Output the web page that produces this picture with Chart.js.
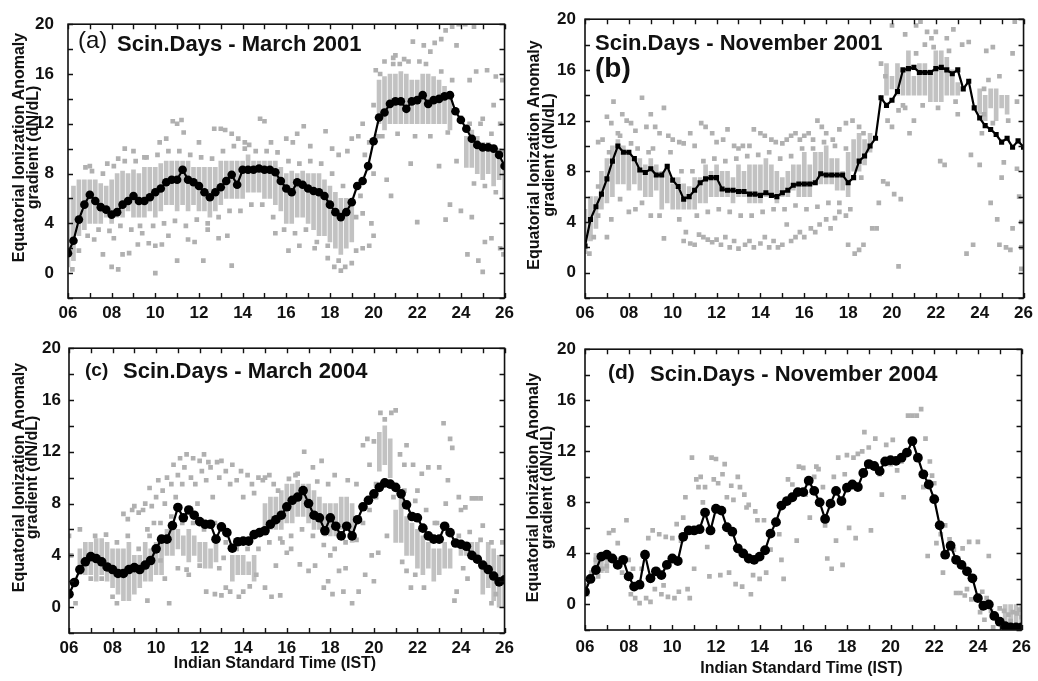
<!DOCTYPE html>
<html><head><meta charset="utf-8">
<script src="https://cdn.jsdelivr.net/npm/chart.js@4.4.0/dist/chart.umd.min.js"></script>
<style>
html,body{margin:0;padding:0;background:#fff;width:1038px;height:681px;overflow:hidden}
canvas{position:absolute}
</style></head><body>
<canvas id="ca" width="519" height="330" style="left:0;top:0"></canvas>
<canvas id="cb" width="519" height="330" style="left:519px;top:0"></canvas>
<canvas id="cc" width="519" height="351" style="left:0;top:330px"></canvas>
<canvas id="cd" width="519" height="351" style="left:519px;top:330px"></canvas>
<script>
const FONT = '"Liberation Sans", Arial, sans-serif';

// ---------- shared axis data ----------
const hours = [6,6.25,6.5,6.75,7,7.25,7.5,7.75,8,8.25,8.5,8.75,9,9.25,9.5,9.75,10,10.25,10.5,10.75,11,11.25,11.5,11.75,12,12.25,12.5,12.75,13,13.25,13.5,13.75,14,14.25,14.5,14.75,15,15.25,15.5,15.75,16,16.25,16.5,16.75,17,17.25,17.5,17.75,18,18.25,18.5,18.75,19,19.25,19.5,19.75,20,20.25,20.5,20.75,21,21.25,21.5,21.75,22,22.25,22.5,22.75,23,23.25,23.5,23.75,24,24.25,24.5,24.75,25,25.25,25.5,25.75,26];
const xTickLabels = ['06','08','10','12','14','16','18','20','22','24','26'];
const yTickLabels = ['0','4','8','12','16','20'];
const yTitleLines = ['Equatorial Ionization Anomaly','gradient (dN/dL)'];
const xTitle = 'Indian Standard Time (IST)';
const panelTags = ['(a)','(b)','(c)','(d)'];
const panelTitles = ['Scin.Days - March 2001','Scin.Days - November 2001','Scin.Days - March 2004','Scin.Days - November 2004'];

// ---------- mean curves ----------
const aVals = [1.6,2.6,4.3,5.5,6.3,5.8,5.3,5.1,4.7,4.9,5.5,5.8,6.2,5.8,5.8,6.1,6.5,6.8,7.3,7.5,7.5,8.3,7.5,7.3,7.0,6.5,6.1,6.5,6.9,7.4,7.9,7.1,8.3,8.3,8.3,8.4,8.3,8.3,8.1,7.4,6.8,6.5,7.3,7.1,6.8,6.6,6.5,6.2,5.5,4.9,4.5,4.9,5.7,7.0,7.4,8.6,10.6,12.5,12.9,13.6,13.8,13.8,13.2,13.8,13.9,14.3,13.6,13.9,14.0,14.2,14.3,13.0,12.3,11.6,10.8,10.3,10.1,10.1,10.0,9.5,8.6];
const bVals = [2.1,4.2,5.2,6.2,7.4,8.8,10.0,9.5,9.5,9.0,8.1,7.9,8.2,7.7,7.7,8.4,7.3,6.8,5.8,6.0,6.5,7.1,7.4,7.5,7.5,6.6,6.5,6.5,6.4,6.4,6.2,6.2,6.1,6.3,6.1,6.0,6.3,6.5,6.9,7.0,7.0,7.0,7.1,7.8,7.7,7.7,7.7,7.7,7.1,7.5,8.8,9.2,10.0,10.6,13.8,13.2,13.6,14.3,16.0,16.1,16.2,15.8,15.8,15.8,16.1,16.2,16.0,15.7,16.0,14.5,15.1,13.0,12.2,11.6,11.3,10.9,10.3,10.6,9.9,10.4,9.9];
const cVals = [1.0,1.9,2.9,3.5,3.9,3.75,3.5,3.1,2.9,2.6,2.6,2.9,3.05,2.9,3.25,3.6,4.5,5.25,5.25,6.3,7.7,6.9,7.5,7.1,6.6,6.4,6.4,5.25,6.2,5.75,4.55,5.05,5.1,5.1,5.6,5.75,5.9,6.4,6.75,7.1,7.75,8.25,8.5,9.0,8.0,7.1,6.9,5.9,6.9,6.25,5.5,6.25,5.5,6.75,7.75,8.25,8.75,9.25,9.6,9.5,9.25,8.75,7.9,7.0,6.9,6.1,5.5,5.25,5.25,6.25,5.75,4.95,4.85,4.7,4.0,3.7,3.25,2.9,2.4,1.95,2.1];
const dVals = [1.0,2.0,2.7,3.75,3.9,3.6,3.1,3.5,2.2,1.4,1.55,3.9,2.05,2.6,2.3,3.1,3.6,3.4,5.3,5.8,5.8,5.9,7.2,5.8,7.5,7.35,6.05,5.7,4.4,4.0,3.6,3.5,3.75,4.25,5.55,6.45,7.75,8.1,8.4,8.8,8.8,9.7,8.9,8.0,6.7,7.9,8.9,8.1,9.15,9.4,9.2,10.3,11.0,10.85,10.45,11.2,11.3,11.25,11.5,11.9,12.8,11.5,10.2,9.4,8.25,6.2,3.9,4.6,3.5,3.1,2.6,2.05,0.5,-0.1,0.0,-0.9,-1.35,-1.7,-1.8,-1.8,-1.8];

// ---------- dense grey stacks [hour, low, high] ----------
const aBands = [[6,0.5,6],[6.25,1,7],[6.5,3,7.5],[6.75,3.5,7.5],[7,4,7.5],[7.25,4,7.5],[7.5,4,7.2],[7.75,4.5,7],[8,4,7.5],[8.25,4.5,8],[8.5,4.5,8.2],[8.75,5,8],[9,4.5,8.3],[9.25,4.5,8],[9.5,4.5,8.5],[9.75,5,8.5],[10,4.5,8.5],[10.25,5,8.8],[10.5,5.5,9],[10.75,5.5,9],[11,5,9],[11.25,5.5,9],[11.5,5,9],[11.75,5.5,8.5],[12,5,8.5],[12.25,5,8.5],[12.5,4.5,8.5],[12.75,5,8.5],[13,5.5,9],[13.25,6,9],[13.5,6,9],[13.75,6,9],[14,6,9],[14.25,6.5,9.5],[14.5,6.5,9],[14.75,6.5,9],[15,6,9],[15.25,6,9],[15.5,5.5,9],[15.75,5,8.5],[16,4,8],[16.25,4,8.2],[16.5,4.5,8],[16.75,4.5,8.2],[17,4,8],[17.25,3.5,8],[17.5,3,8],[17.75,3,7.5],[18,2.5,7],[18.25,2,6.5],[18.5,1.5,6],[18.75,2,6],[19,2.5,5.5],[20.25,12,15.5],[20.5,11.5,15.8],[20.75,12,16],[21,12,16],[21.25,12,16.2],[21.5,12,16],[21.75,12,15.5],[22,12,15.5],[22.25,12,16],[22.5,12,16],[22.75,12,15.8],[23,12,15.5],[23.25,12,15],[23.5,11.5,14],[24.25,8.5,11],[24.5,8.5,11.5],[24.75,8,11],[25,7.5,10.5],[25.25,8,10.5],[25.5,7,10],[25.75,7.5,10],[26,6,9]];
const bBands = [[6,1.5,5],[6.25,2.5,6],[6.5,3.5,6],[6.75,5,8],[7,5.5,9],[7.25,6,10],[7.5,7,10.5],[7.75,7,10],[8,6.5,9.5],[8.25,7,9],[8.5,6.5,9],[8.75,6,8.5],[9,6,9],[9.25,6.5,8.5],[9.5,5,8],[9.75,5.5,8.5],[10,5,7],[10.25,5,7.5],[10.5,5,7],[10.75,5,6.8],[11,5,7.5],[11.25,5.5,7.5],[11.5,5.5,8.5],[11.75,6,8],[12,6,8.5],[12.25,6,8],[12.5,6,8],[12.75,5.5,7.5],[13,6,8.5],[13.25,6,8],[13.5,5.5,8.5],[13.75,5.5,8.5],[14,5.5,8.5],[14.25,6,9],[14.5,6,8.5],[14.75,5.5,8],[15,6,7.5],[15.25,6,8],[15.5,6.5,8.5],[15.75,6,8.5],[16,6,9.5],[16.25,6,8.5],[16.5,7,9.5],[16.75,7,9.5],[17,7,10],[17.25,7,9],[17.5,6.5,9],[17.75,6.5,8],[18,6,9.5],[18.25,8,10.5],[18.5,8,11],[18.75,8.5,10.5],[19,9.5,11],[19.75,14,16.5],[20,14.5,15.5],[20.25,14,16.5],[20.5,14,16],[20.75,14,17.5],[21,14,15.5],[21.25,14,16.5],[21.5,14,16.5],[21.75,13.5,16],[22,13.5,17.5],[22.25,13.5,17.5],[22.5,14,17],[22.75,14,16],[23,14,15],[24,12.5,14.5],[24.25,12,14],[24.5,13,14.5],[24.75,12,14.5],[25,13,14],[25.25,12.5,14]];
const cBands = [[6.5,2.5,4.5],[6.75,2.5,5],[7,2.5,5],[7.25,2,5.3],[7.5,2.5,5.3],[7.75,2,5],[8,1.5,4.5],[8.25,1,4.5],[8.5,0.5,4.5],[8.75,0.5,5],[9,1,4],[9.25,1.5,4],[9.5,2,5],[9.75,2,4.5],[10,2.5,5],[10.25,2.5,5.5],[10.5,4,6],[10.75,4,6.5],[11,4.5,6],[11.25,4,5.5],[11.5,3.5,6],[11.75,4,5.5],[12,3.5,5],[12.25,3,5],[12.5,3,4.5],[12.75,3.5,5],[13.5,2,4],[13.75,2.5,4],[14,2.5,4],[14.25,2.5,3.5],[14.5,2,4],[15,6,8],[15.25,6,8.5],[15.5,6,8.5],[15.75,6,9],[16,6.5,9.5],[16.25,6.5,9.5],[16.5,7,9.8],[16.75,7,9.5],[17,6.5,9.5],[17.25,6,9],[17.5,6,8.5],[17.75,5.5,8],[18,5.5,8],[18.25,5.5,8],[18.5,6,8.5],[18.75,6,8.5],[19,5,8],[20.25,10.5,13.5],[20.5,11,14],[20.75,10,13],[21,5,7.5],[21.25,5,8.5],[21.5,4,7],[21.75,4,6.5],[22,3,6],[22.25,2.5,5.5],[22.5,3,5],[22.75,2,4.5],[23,2.5,4.5],[23.25,3,5],[23.5,3,4.5],[24,4,5],[24.25,4,5],[24.5,4,5],[24.75,3.5,5],[25,1,3.5],[25.25,1.5,5],[25.5,0.5,4.5],[25.75,0,4],[26,0,4]];
const dBands = [[6.5,2.5,4],[6.75,2.5,4],[7,2.5,3.5],[25.25,-1.5,0],[25.5,-1.5,0],[25.75,-1.5,0],[26,-1.5,0]];

// ---------- scattered grey squares [hour, value] ----------
const aScatter = [[6.2,0.3],[6.5,1.8],[6.8,8.5],[7,8.6],[7.2,2.7],[7.6,1.5],[7.8,8.8],[8,0.5],[8.1,2.8],[8.3,0.3],[8.3,9.2],[8.5,1.5],[8.6,10],[8.8,1.6],[9,9.8],[9.2,2.3],[9.3,3.8],[9.5,9.3],[9.7,2.4],[10,0],[10,2.2],[10.2,10.5],[10.3,2.3],[10.5,10.8],[10.6,3],[10.8,12.2],[11,12],[11,1],[11.2,12.3],[11.3,11.3],[11.5,2.7],[11.8,2.5],[12,10.5],[12.2,1],[12.4,3.5],[12.7,11.6],[12.9,2.8],[13,11.6],[13.2,11.5],[13.3,3],[13.5,0.6],[13.5,11.2],[13.8,10.8],[14.1,10.5],[14.3,10.3],[14.8,12.4],[15,12.2],[15.3,10.5],[15.5,3.2],[16,10.8],[16.1,1.8],[16.3,10.5],[16.5,11.2],[16.6,2.2],[16.8,11.8],[17.1,10.2],[17.3,2],[17.8,11.4],[17.9,1.2],[18.1,10],[18.2,0.5],[18.4,9.5],[18.5,0.2],[18.7,0.5],[18.8,9.8],[19,0.8],[19,10.8],[19.2,1.8],[19.3,11],[19.5,2],[19.5,12],[19.8,2.2],[19.9,4],[20,13.5],[20,8],[20.2,11],[20.3,16],[20.5,17],[20.6,7.5],[20.8,6.2],[20.9,17.3],[21,17.5],[21.2,16.8],[21.4,17.2],[21.7,8.8],[21.8,18.6],[22,4.1],[22.1,17],[22.3,18.3],[22.6,17.8],[22.8,18.5],[23,8.6],[23.1,18.8],[23.3,4.3],[23.3,19.5],[23.5,5.5],[23.6,19.8],[23.8,9],[23.8,18.3],[23.9,20],[24,5],[24,12.5],[24.2,20],[24.3,1.5],[24.4,15.5],[24.5,4.5],[24.6,19.8],[24.7,16.2],[24.8,1],[25,12.4],[25,0.1],[25.1,2.5],[25.2,16.3],[25.4,2.8],[25.5,13.5],[25.6,15.8],[25.8,2],[25.8,12],[25.9,15.5],[25.95,1.5],[19.2,4.5],[19.4,6.2],[19.6,9.5],[19.8,10.5],[20,3],[19.5,4.8],
  [6.9,3],[7.4,3.5],[7.9,3.4],[8.4,3.8],[8.9,3.5],[9.4,3.2],[9.9,3.8],[10.4,4],[10.9,4.2],[11.4,3.8],[11.9,4.3],[12.4,4],[12.9,4.5],[13.4,5],[13.9,5],[14.4,5.5],[14.9,5.5],[15.4,4.5],[15.9,3.5],[16.4,3.2],[16.9,3.5],[17.4,2.5],[17.9,2.2],[18.4,1],[7.1,8.2],[7.6,8],[8.1,8.6],[8.6,9],[9.1,9],[9.6,9.3],[10.1,9.5],[10.6,9.8],[11.1,9.8],[11.6,9.5],[12.1,9.3],[12.6,9.2],[13.1,9.8],[13.6,10.2],[14.1,10],[14.6,9.8],[15.1,9.8],[15.6,9.7],[16.1,9],[16.6,8.8],[17.1,9],[17.6,8.8],[18.1,8],[18.6,7],[20.1,16.3],[20.9,16.8],[21.6,17],[22.4,16.8],[23.1,16.2],[23.6,15.5],[20.4,11],[21.1,11.2],[21.9,11],[22.6,11],[23.4,11.3],[24.4,12],[24.9,12],[25.4,11.2],[25.9,9.8],[24.6,7.2],[25.1,7],[25.6,6.5]];
const bScatter = [[6.6,10.3],[6.8,10.5],[7,12.3],[7.2,11.8],[7.3,13.5],[7.5,11],[7.7,12.5],[7.9,12],[8.1,11.8],[8.3,11.2],[8.6,13.8],[8.8,11.5],[9,12.5],[9.2,11.5],[9.4,11],[9.6,13],[9.8,10.8],[10,10.5],[10.3,10.3],[10.5,10.2],[10.8,11],[11,10],[11.3,11.8],[11.5,11.5],[11.8,11],[12,10.3],[12.3,10.5],[12.5,11.3],[12.8,10],[13,9.8],[13.2,10],[13.5,10],[13.7,11.3],[14,11],[14.2,10.8],[14.5,10.5],[14.7,10.3],[15,10.2],[15.2,10.5],[15.4,10.8],[15.6,11],[15.8,10.5],[16,10.8],[16.2,11],[16.4,10.5],[16.6,12],[16.8,11.5],[17,11],[17.3,10.5],[17.6,11.3],[17.9,11.8],[18.2,12],[18.5,11.5],[18.7,11],[10.5,2.5],[10.6,3.2],[10.8,2.3],[11,2.2],[11.2,3],[11.4,2.8],[11.6,2.6],[11.8,2.4],[12,2.6],[12.2,2.2],[12.4,2.8],[12.6,2],[12.8,2.5],[13,1.9],[13.3,2.2],[13.5,2.5],[13.7,2],[14,2.3],[14.2,2.8],[14.4,2],[14.6,2.5],[14.8,2],[15,2.2],[15.2,3.8],[15.4,2.5],[15.6,2.8],[15.8,3.2],[16,2.8],[16.3,3.5],[16.5,3.2],[16.7,3.8],[17,4.2],[17.2,3.5],[17.4,4.3],[17.6,4.8],[17.9,4.5],[18,2.2],[18.3,1.5],[18.5,1.8],[18.7,2.2],[19.1,3.5],[19.3,3.5],[6.2,1.5],[6.4,2.8],[6.6,4.5],[7,2.8],[7.2,4.2],[7.6,5.8],[8,4.8],[8.3,5],[8.6,5.5],[9,4.5],[9.4,4.5],[9.6,2.7],[10.3,4.2],[19.4,5.5],[19.6,7.2],[19.8,7],[19.8,12],[20,11.5],[20.1,6.2],[20.3,0.5],[20.3,12.8],[20.4,5.8],[20.5,13.2],[20.8,11],[21,12],[21.1,19.5],[21.3,19.8],[21.6,19],[21.8,18.5],[22,19],[22.2,8.8],[22.4,8.5],[22.5,18.5],[22.8,19.2],[23,12.5],[23.2,18],[23.4,1.5],[23.5,18.2],[23.6,9.3],[23.7,2.2],[24,8.5],[24.1,11],[24.2,12.5],[24.3,17.5],[24.5,5.5],[24.6,17.8],[24.8,4.2],[24.9,2.2],[25,7.5],[25.1,8.7],[25.2,2],[25.4,1.8],[25.5,3.5],[25.6,19.8],[25.7,8.2],[25.8,6],[25.9,0.3],[25.9,4],[25.9,2],[25.5,17.3],[24.2,14.5],[20,19.5],[20.6,18.8],[21.5,18],[19.5,16.5],[19.7,15.5],
  [6.6,6.8],[7.1,9.5],[7.6,10.8],[8.1,10.2],[8.4,9.8],[8.9,9.5],[9.1,9.8],[9.9,9.5],[10.4,8],[10.9,8],[11.4,8.8],[11.9,9],[12.4,8.8],[12.9,9],[13.4,9.2],[13.9,9.3],[14.4,9.5],[14.9,9],[15.4,9.2],[15.9,9.8],[16.4,9.8],[16.9,10.3],[17.4,10],[17.9,9.8],[11.1,4.5],[11.6,4.8],[12.1,5],[12.6,4.8],[13.1,4.5],[13.6,4.5],[14.1,4.8],[14.6,5],[15.1,5],[15.6,5.3],[16.1,5],[16.6,5.2],[17.1,5.5],[17.6,5.5],[18.1,5],[18.6,7.5],[20.6,13],[21.4,13.2],[22.1,13],[22.9,13.5],[21.1,17.3],[21.9,17.8],[22.6,17.5],[24.4,15.2],[24.9,15.5],[25.3,12],[25.7,13.5],[24.6,11.8]];
const cScatter = [[6,5.5],[6.1,4],[6.3,0.3],[6.5,6],[7,2.2],[7.5,2.2],[8,0.8],[8.2,0.3],[8.5,7.2],[8.7,6.8],[8.9,7.5],[9,7.8],[9.2,7.3],[9.4,7.5],[9.5,8],[9.6,0.5],[9.7,9.2],[9.8,7.8],[10,8.5],[10.1,9.8],[10.3,9],[10.4,8],[10.5,10],[10.6,0.3],[10.7,9.5],[10.8,11],[10.9,8.5],[11,10.2],[11.1,11.5],[11.2,9.5],[11.3,10.8],[11.4,11.8],[11.5,2.5],[11.6,10],[11.7,11.5],[11.8,9.5],[11.9,8],[12,11.3],[12.1,10.5],[12.2,11.8],[12.3,9.8],[12.4,11.2],[12.5,10.8],[12.6,8.5],[12.8,11.2],[12.9,10],[13,11.3],[13.2,10.5],[13.4,9.5],[13.5,11],[13.7,9.8],[13.9,10.5],[14,8.5],[14.2,10.2],[14.4,9.5],[14.5,8.8],[14.7,10],[14.9,9.8],[15,10],[15.2,10.2],[15.4,9.5],[15.6,9],[12.3,1.2],[12.7,1],[13,0.9],[13.2,1.5],[13.4,1.2],[13.8,0.8],[14,1.2],[14.3,1.6],[14.6,2.5],[15,1.5],[15.3,0.8],[15.7,0.9],[15.5,3.2],[15.8,5],[16,4.2],[16.2,4.5],[16.5,10.3],[16.6,3.3],[16.8,12],[17,2.8],[17.2,10.8],[17.3,3.2],[17.6,11.3],[17.7,1.5],[17.9,2],[18,4],[18.1,1],[18.2,10.2],[18.4,2.8],[18.6,1.2],[18.7,3],[18.8,9.8],[19,0.3],[19.2,9.5],[19.3,1.2],[19.5,12.5],[19.6,2.5],[19.7,13],[19.8,11],[19.9,4],[20,2],[20,12.8],[20.1,9.5],[20.2,4.2],[20.3,15],[20.5,14.5],[20.6,5.5],[20.8,15],[21,15.2],[21.2,11.8],[21.3,3.5],[21.4,11],[21.5,2.8],[21.5,12.5],[21.7,1.5],[21.8,11],[21.9,2.5],[22,9],[22.2,10.3],[22.3,1.5],[22.5,10.8],[22.8,6.5],[23,10.8],[23.2,14.2],[23.3,8],[23.4,9.8],[23.5,13],[23.6,12.3],[23.7,0.5],[23.8,1.2],[23.9,8.5],[24,7.5],[24.2,7.7],[24.5,8.4],[24.7,8.4],[24.9,8.4],[25,6.3],[24.3,2.2],[24.1,3],[25.4,0.3],[25.6,1],[11,3],[11.4,2.9],[12,3.2],[10.2,3.6],[10.4,2.2],[9.6,6],[9.9,6.5],
  [7.2,5.5],[7.7,5.6],[8.2,5],[8.7,5.5],[9.2,4.5],[9.7,5.5],[10.2,6.5],[10.7,7],[11.2,6.5],[11.7,6.5],[12.2,6],[12.7,6.5],[13.2,5],[13.7,4.5],[14.2,4.5],[14.7,4.5],[15.2,5],[15.7,5.3],[16.2,5.5],[16.7,6],[17.2,5.5],[17.7,4.8],[18.2,4.5],[18.7,5],[19.2,5.2],[19.5,6.5],[19.8,7.5],[20.1,8.5],[20.4,9.5],[20.9,8.5],[21.4,9],[21.9,8.2],[22.4,7.5],[22.9,6.5],[23.4,5.8],[23.9,5.5],[24.4,5.8],[24.9,5.2],[25.4,5],[25.9,5],[12.9,3],[13.1,3.8],[16.1,9.9],[16.4,10.2],[17.4,9.7],[17.9,9.5]];
const dScatter = [[6,1.5],[6.1,0.8],[6.3,2.5],[6.5,3.5],[6.6,2.2],[6.8,2.8],[7,3],[7.1,5.6],[7.3,5.8],[7.5,3.5],[7.5,4.8],[7.7,2.5],[7.9,6.6],[8,3.5],[8.1,0.8],[8.2,2.8],[8.3,0.5],[8.5,0.1],[8.6,2.8],[8.8,0.5],[8.9,5.2],[9,0.2],[9.1,5.8],[9.2,1.2],[9.4,5.5],[9.5,0.8],[9.6,1.5],[9.7,5.3],[9.8,0.6],[10,5.2],[10.1,0.5],[10.2,6.3],[10.3,1],[10.4,5],[10.5,6.8],[10.6,8.4],[10.7,1.2],[10.8,0.5],[10.9,11.5],[11,2.8],[11.1,9.8],[11.2,9.2],[11.3,10],[11.4,8],[11.5,9.2],[11.6,4.5],[11.7,2.2],[11.8,11.5],[11.9,9.8],[12,11.4],[12.1,9.5],[12.2,2.3],[12.3,10.2],[12.4,11],[12.5,8.4],[12.6,2.5],[12.7,9.3],[12.8,8.2],[12.9,1.6],[13,10],[13.1,9.2],[13.2,1.4],[13.3,8.6],[13.4,7.6],[13.5,7.8],[13.6,0.8],[13.7,2.3],[13.8,7.3],[13.9,6.6],[14,2],[14.2,6.6],[14.3,2.5],[14.5,4.3],[14.7,6.5],[14.9,5.5],[15,3.5],[15.1,2],[15.3,9.8],[15.5,9.4],[15.7,5],[15.8,10.8],[16,10.7],[16.1,8.6],[16.3,6.8],[16.5,10],[16.6,10.8],[16.7,10.6],[16.9,9.2],[17,6.2],[17.1,3.6],[17.3,2.8],[17.4,10],[17.5,5],[17.6,11.5],[17.8,3.1],[17.9,10.2],[18,11.7],[18.1,6],[18.3,11.5],[18.4,5.2],[18.5,11.8],[18.7,12],[18.8,13.5],[18.9,11],[19,12.3],[19.1,5.8],[19.3,13],[19.5,10.2],[19.6,8.6],[19.8,12.5],[20,11],[20.1,12.9],[20.3,10.5],[20.5,11.2],[20.6,8.4],[20.8,14.8],[21,14.8],[21.2,14.8],[21.4,15.3],[21.5,9.2],[21.6,13],[21.7,3.8],[21.8,11.2],[21.9,10.1],[22,9.5],[22.1,4.8],[22.3,5.5],[22.4,2.5],[22.5,6.2],[22.7,5.1],[22.9,4.3],[23,0.9],[23.2,0.9],[23.3,4.4],[23.4,0.7],[23.5,1.2],[23.6,4.9],[23.7,0.4],[23.8,1.9],[24,4.9],[24.2,1],[24.4,0.5],[24.5,3.8],[24.6,-0.5],[24.8,-1],[25,-1.2],[25.2,-0.5],[25.4,-0.8],[25.6,-0.6],[25.8,-0.7],[26,-1],[25,-0.3],[25.5,-1.3],[25.9,-0.4],[24.1,-0.6],[24.3,-1.2],[24.7,-1.8]];

// ---------- panel layout (pixels, styles) ----------
const panels = [
  {id:'ca', vals:aVals, bands:aBands, scatter:aScatter, padTop:17, padRight:10, yW:68, xH:32, xPad:5, yPad:14, style:'circle', r:4.3,
   tag:{text:panelTags[0], font:'normal 24px '+FONT, x:78, y:48}, title:{text:panelTitles[0], x:117, y:51},
   yt:{x1:20, x2:34, cy:147.5}, xt:null},
  {id:'cb', vals:bVals, bands:bBands, scatter:bScatter, padTop:17, padRight:13, yW:66, xH:32, xPad:5, yPad:9, style:'rect', r:3.6,
   tag:{text:panelTags[1], font:'bold 28px '+FONT, x:76, y:77}, title:{text:panelTitles[1], x:76, y:50},
   yt:{x1:16, x2:31, cy:155}, xt:null},
  {id:'cc', vals:cVals, bands:cBands, scatter:cScatter, padTop:10, padRight:9, yW:69, xH:48, xPad:5, yPad:8, style:'circle', r:4.8,
   tag:{text:panelTags[2], font:'bold 19px '+FONT, x:85, y:46}, title:{text:panelTitles[2], x:123, y:48},
   yt:{x1:20, x2:33, cy:147.5}, xt:{x:275, y:334}},
  {id:'cd', vals:dVals, bands:dBands, scatter:dScatter, padTop:16, padRight:9, yW:66, xH:51, xPad:7, yPad:9, style:'circle', r:4.9,
   tag:{text:panelTags[3], font:'bold 21px '+FONT, x:89, y:49}, title:{text:panelTitles[3], x:131, y:51},
   yt:{x1:15, x2:29, cy:157.5}, xt:{x:282.5, y:339}}
];

function decoPlugin(p) {
  return {
    id: 'deco',
    afterDatasetsDraw(chart) {
      const {ctx, chartArea: ca, scales: {x, y}} = chart;
      ctx.save();
      ctx.strokeStyle = '#111';
      ctx.lineWidth = 1.6;
      ctx.strokeRect(ca.left, ca.top, ca.right - ca.left, ca.bottom - ca.top);
      ctx.lineWidth = 1.4;
      ctx.beginPath();
      for (let h = x.min; h <= x.max; h += 1) {
        const px = Math.round(x.getPixelForValue(h)) + 0.5;
        ctx.moveTo(px, ca.top); ctx.lineTo(px, ca.top + 5);
        ctx.moveTo(px, ca.bottom); ctx.lineTo(px, ca.bottom - 5);
      }
      for (let v = y.min; v <= y.max; v += 2) {
        const py = Math.round(y.getPixelForValue(v)) + 0.5;
        ctx.moveTo(ca.left, py); ctx.lineTo(ca.left + 5, py);
        ctx.moveTo(ca.right, py); ctx.lineTo(ca.right - 5, py);
      }
      ctx.stroke();
      ctx.fillStyle = '#111';
      ctx.textBaseline = 'alphabetic';
      ctx.textAlign = 'left';
      ctx.font = p.tag.font;
      ctx.fillText(p.tag.text, p.tag.x, p.tag.y);
      ctx.font = 'bold 22px ' + FONT;
      ctx.fillText(p.title.text, p.title.x, p.title.y);
      ctx.font = 'bold 16px ' + FONT;
      ctx.textAlign = 'center';
      ctx.textBaseline = 'middle';
      [[yTitleLines[0], p.yt.x1], [yTitleLines[1], p.yt.x2]].forEach(([t, xx]) => {
        ctx.save(); ctx.translate(xx, p.yt.cy); ctx.rotate(-Math.PI / 2);
        ctx.fillText(t, 0, 0); ctx.restore();
      });
      if (p.xt) {
        ctx.font = 'bold 16px ' + FONT;
        ctx.fillText(xTitle, p.xt.x, p.xt.y);
      }
      ctx.restore();
    }
  };
}

const tickFont = {family: FONT, size: 17, weight: 'bold'};

panels.forEach(p => {
  new Chart(document.getElementById(p.id), {
    type: 'scatter',
    data: {
      datasets: [
        {
          type: 'line', order: 0,
          data: hours.map((h, i) => ({x: h, y: p.vals[i]})),
          borderColor: '#000', borderWidth: 2.2, tension: 0,
          pointStyle: p.style, pointRadius: p.r,
          pointBackgroundColor: '#000', pointBorderColor: '#000', pointBorderWidth: 0
        },
        {
          type: 'scatter', order: 1,
          data: p.scatter.map(s => ({x: s[0], y: s[1]})),
          pointStyle: 'rect', pointRadius: 3.3,
          pointBackgroundColor: '#b0b0b0', pointBorderWidth: 0, showLine: false
        },
        {
          type: 'bar', order: 2,
          data: p.bands.map(b => ({x: b[0], y: [b[1], b[2]]})),
          backgroundColor: '#c2c2c2', borderWidth: 0, barThickness: 4, grouped: false
        }
      ]
    },
    options: {
      responsive: false, animation: false, events: [],
      layout: {padding: {top: p.padTop, right: p.padRight, left: 0, bottom: 0}},
      plugins: {legend: {display: false}, tooltip: {enabled: false}},
      scales: {
        x: {
          type: 'linear', min: 6, max: 26, offset: false,
          grid: {display: false, drawTicks: false}, border: {display: false},
          ticks: {stepSize: 2, padding: p.xPad, font: tickFont, color: '#111', maxRotation: 0, autoSkip: false,
                  callback: v => xTickLabels[Math.round((v - 6) / 2)] ?? ''},
          afterFit: s => { s.height = p.xH; }
        },
        y: {
          type: 'linear', min: -2, max: 20,
          grid: {display: false, drawTicks: false}, border: {display: false},
          ticks: {stepSize: 4, padding: p.yPad, font: tickFont, color: '#111',
                  callback: v => (v < 0 ? '' : (yTickLabels[v / 4] ?? ''))},
          afterFit: s => { s.width = p.yW; }
        }
      }
    },
    plugins: [decoPlugin(p)]
  });
});
</script>
</body></html>
